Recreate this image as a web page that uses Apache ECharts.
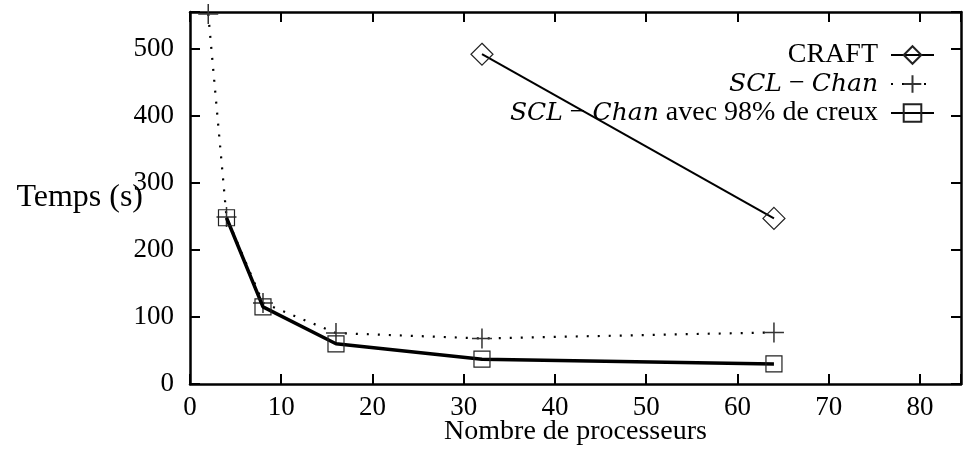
<!DOCTYPE html>
<html>
<head>
<meta charset="utf-8">
<script src="https://cdn.jsdelivr.net/npm/echarts@6/dist/echarts.min.js"></script>
<style>
  html, body { margin: 0; padding: 0; background: #fff; }
  #main { width: 964px; height: 458px; }
</style>
</head>
<body>
<div id="main"></div>
<script>
// donnees
var craftX = [32, 64];
var craftY = [492, 247];
var sclX = [2, 4, 8, 16, 32, 64];
var sclY = [552, 249, 121, 76, 68, 77];
var creuxX = [4, 8, 16, 32, 64];
var creuxY = [248, 115, 60, 37, 30];
var xTicks = [0, 10, 20, 30, 40, 50, 60, 70, 80];
var yTicks = [0, 100, 200, 300, 400, 500];

var FONT = 'Liberation Serif';

function pairs(xs, ys) {
    return xs.map(function (x, i) { return [x, ys[i]]; });
}

var plusPath = 'path://M10,0L10,20M0,10L20,10';

var chart = echarts.init(document.getElementById('main'));

var frameLine = { show: true, onZero: false, lineStyle: { color: '#000', width: 2.5 } };
var frameTick = { show: true, inside: true, length: 10, lineStyle: { color: '#000', width: 2 } };

option = {
    backgroundColor: '#ffffff',
    animation: false,
    grid: { left: 190, right: 1, top: 12, bottom: 74 },
    legend: {
        orient: 'vertical',
        right: 24,
        top: 36,
        align: 'right',
        itemWidth: 43,
        itemHeight: 22,
        itemGap: 1,
        data: ['CRAFT', 'SCL - Chan', 'SCL - Chan avec 98% de creux'],
        formatter: function (name) {
            if (name == 'CRAFT') return 'CRAFT';
            if (name == 'SCL - Chan') return '{i|SCL} \u2212 {i|Chan}';
            return '{i|SCL} \u2212 {i|Chan} avec 98% de creux';
        },
        textStyle: {
            fontFamily: FONT,
            fontSize: 28,
            lineHeight: 28,
            color: '#000',
            padding: [0, 8, 0, 0],
            rich: {
                i: { fontFamily: 'DejaVu Serif', fontSize: 25, lineHeight: 28, fontStyle: 'italic', color: '#000' }
            }
        }
    },
    xAxis: [{
        type: 'value',
        min: 0,
        max: 84.5,
        interval: 10,
        name: 'Nombre de processeurs',
        nameLocation: 'middle',
        nameGap: 34,
        nameMoveOverlap: false,
        nameTextStyle: { fontFamily: FONT, fontSize: 28, color: '#000' },
        axisLine: frameLine,
        axisTick: frameTick,
        splitLine: { show: false },
        axisLabel: {
            margin: 10,
            fontFamily: FONT,
            fontSize: 27,
            color: '#000',
            formatter: function (v) { return xTicks.indexOf(v) >= 0 ? String(v) : ''; }
        }
    }, {
        type: 'value',
        position: 'top',
        min: 0,
        max: 84.5,
        interval: 10,
        axisLine: frameLine,
        axisTick: frameTick,
        splitLine: { show: false },
        axisLabel: { show: false }
    }],
    yAxis: [{
        type: 'value',
        min: 0,
        max: 555,
        interval: 100,
        name: 'Temps (s)',
        nameLocation: 'middle',
        nameRotate: 0,
        nameGap: 47,
        nameMoveOverlap: false,
        nameTextStyle: { fontFamily: FONT, fontSize: 32, color: '#000', padding: [0, 0, 12, 0] },
        axisLine: frameLine,
        axisTick: frameTick,
        splitLine: { show: false },
        axisLabel: {
            margin: 16,
            fontFamily: FONT,
            fontSize: 27,
            color: '#000',
            formatter: function (v) { return yTicks.indexOf(v) >= 0 ? String(v) : ''; }
        }
    }, {
        type: 'value',
        position: 'right',
        min: 0,
        max: 555,
        interval: 100,
        axisLine: frameLine,
        axisTick: frameTick,
        splitLine: { show: false },
        axisLabel: { show: false }
    }],
    series: [{
        name: 'CRAFT',
        type: 'line',
        data: pairs(craftX, craftY),
        symbol: 'diamond',
        symbolSize: 22,
        itemStyle: { color: 'rgba(0,0,0,0)', borderColor: '#222', borderWidth: 1.2 },
        lineStyle: { color: '#000', width: 2 },
        z: 3
    }, {
        name: 'SCL - Chan',
        type: 'line',
        data: pairs(sclX, sclY),
        symbol: plusPath,
        symbolSize: 20,
        itemStyle: { color: 'rgba(0,0,0,0)', borderColor: '#333', borderWidth: 1.5 },
        lineStyle: { color: '#000', width: 2.2, type: [2, 9] },
        z: 2
    }, {
        name: 'SCL - Chan avec 98% de creux',
        type: 'line',
        data: pairs(creuxX, creuxY),
        symbol: 'rect',
        symbolSize: 16,
        itemStyle: { color: 'rgba(0,0,0,0)', borderColor: '#222', borderWidth: 1.2 },
        lineStyle: { color: '#000', width: 3.5 },
        z: 4
    }]
};
chart.setOption(option);
</script>
</body>
</html>
